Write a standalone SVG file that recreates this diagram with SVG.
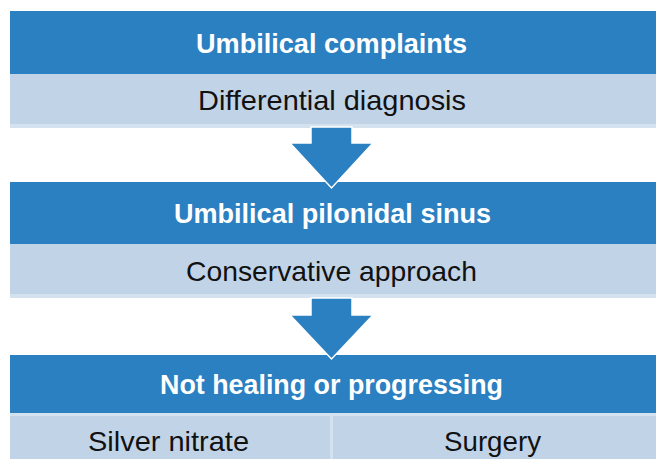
<svg xmlns="http://www.w3.org/2000/svg" width="656" height="459" viewBox="0 0 656 459">
<style>
.dark{fill:#2A80C1}
.light{fill:#C1D4E7}
.strip{fill:#D4E1EE}
.h{font-family:"Liberation Sans",Arial,sans-serif;font-weight:bold;font-size:28px;fill:#FFFFFF;text-anchor:middle}
.t{font-family:"Liberation Sans",Arial,sans-serif;font-size:28px;fill:#111111;text-anchor:middle}
.arrow{fill:#2A80C1;stroke:#FFFFFF;stroke-width:1.5;stroke-linejoin:miter}
</style>
<rect width="656" height="459" fill="#FFFFFF"/>
<g id="node1">
<rect class="dark" x="10" y="11" width="646" height="63"/>
<rect class="light" x="10" y="74" width="646" height="50"/>
<rect class="strip" x="10" y="124" width="646" height="4"/>
<text class="h" x="331.5" y="53" textLength="271" lengthAdjust="spacingAndGlyphs">Umbilical complaints</text>
<text class="t" x="332" y="110" textLength="268" lengthAdjust="spacingAndGlyphs">Differential diagnosis</text>
</g>
<g id="node2">
<rect class="dark" x="10" y="182" width="646" height="62"/>
<rect class="light" x="10" y="244" width="646" height="50"/>
<rect class="strip" x="10" y="294" width="646" height="4"/>
<text class="h" x="332.5" y="223" textLength="317" lengthAdjust="spacingAndGlyphs">Umbilical pilonidal sinus</text>
<text class="t" x="331.5" y="281" textLength="291" lengthAdjust="spacingAndGlyphs">Conservative approach</text>
</g>
<g id="node3">
<rect class="dark" x="10" y="355" width="646" height="58"/>
<rect class="strip" x="10" y="413" width="646" height="3"/>
<rect class="light" x="10" y="416" width="646" height="43"/>
<rect class="strip" x="330" y="416" width="3" height="43"/>
<text class="h" x="331.5" y="394" textLength="343" lengthAdjust="spacingAndGlyphs">Not healing or progressing</text>
<text class="t" x="168.5" y="451" textLength="161" lengthAdjust="spacingAndGlyphs">Silver nitrate</text>
<text class="t" x="492.5" y="451" textLength="97" lengthAdjust="spacingAndGlyphs">Surgery</text>
</g>
<g id="connectors">
<path class="arrow" d="M311,127 L352,127 L352,143 L373,143 L331.5,188 L290,143 L311,143 Z"/>
<path class="arrow" d="M311,298 L352,298 L352,315 L373,315 L331.5,359 L290,315 L311,315 Z"/>
</g>
</svg>
